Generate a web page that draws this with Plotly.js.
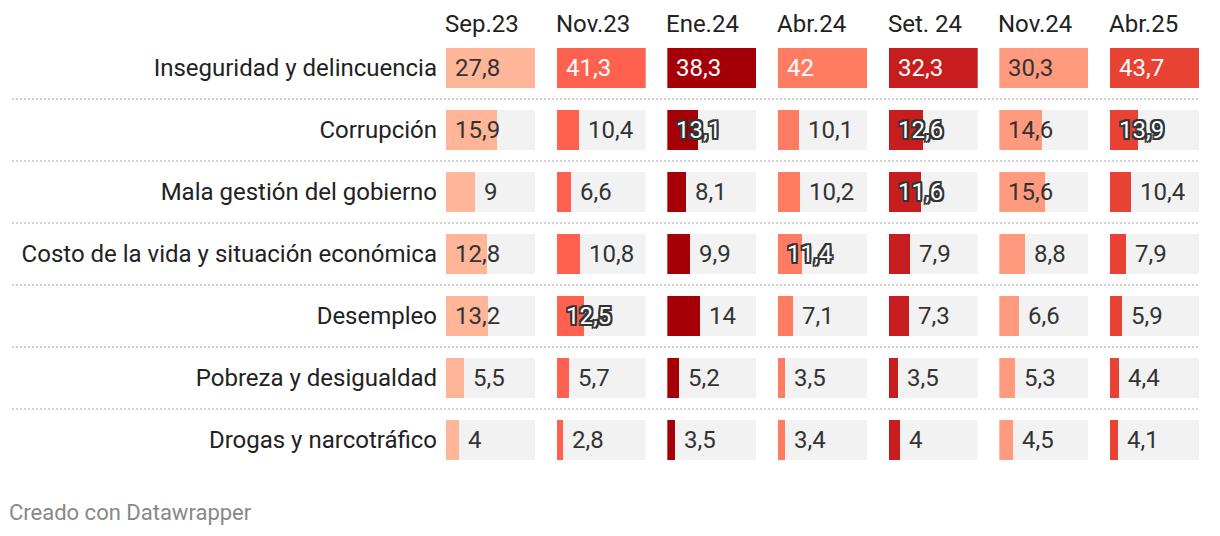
<!DOCTYPE html>
<html>
<head>
<meta charset="utf-8">
<script src="https://cdn.plot.ly/plotly-3.0.1.min.js"></script>
<style>html,body{margin:0;padding:0;background:#fff;}#chart{width:1220px;height:536px;}</style>
</head>
<body>
<div id="chart"></div>
<script>
const columns = ['Sep.23','Nov.23','Ene.24','Abr.24','Set. 24','Nov.24','Abr.25'];
const categories = ['Inseguridad y delincuencia','Corrupción','Mala gestión del gobierno','Costo de la vida y situación económica','Desempleo','Pobreza y desigualdad','Drogas y narcotráfico'];
const sep23 = [27.8,15.9,9,12.8,13.2,5.5,4];
const nov23 = [41.3,10.4,6.6,10.8,12.5,5.7,2.8];
const ene24 = [38.3,13.1,8.1,9.9,14,5.2,3.5];
const abr24 = [42,10.1,10.2,11.4,7.1,3.5,3.4];
const set24 = [32.3,12.6,11.6,7.9,7.3,3.5,4];
const nov24 = [30.3,14.6,15.6,8.8,6.6,5.3,4.5];
const abr25 = [43.7,13.9,10.4,7.9,5.9,4.4,4.1];
const colors = ['#ffb597','#ff6150','#a50008','#ff7b62','#c81d1e','#ff9a7e','#e84234'];

const series = [sep23,nov23,ene24,abr24,set24,nov24,abr25];
const W = 1220, H = 536;
const FONT = 'Roboto, "Noto Sans", sans-serif';
const FS = 24;
const rowIdx = categories.map((c,i)=>i);

function isDark(hex){
  const r=parseInt(hex.slice(1,3),16), g=parseInt(hex.slice(3,5),16), b=parseInt(hex.slice(5,7),16);
  return (0.299*r+0.587*g+0.114*b) < 175;
}
const fmt = v => String(v).replace('.', ',');
const halo = ['-2px -2px 0 #333','2px -2px 0 #333','-2px 2px 0 #333','2px 2px 0 #333','0 2px 0 #333','0 -2px 0 #333','2px 0 0 #333','-2px 0 0 #333'].join(', ');

const traces = [];
const annotations = [];
const layout = {
  width: W, height: H,
  margin: {l:0, r:0, t:0, b:0, pad:0},
  paper_bgcolor: '#ffffff', plot_bgcolor: 'rgba(0,0,0,0)',
  showlegend: false, barmode: 'overlay', bargap: 0,
  font: {family: FONT, size: FS, color: '#222222'},
  yaxis: {
    anchor: 'x', range: [7.548, -1.097], tickvals: rowIdx, ticktext: categories,
    showgrid: false, zeroline: false, showline: false, ticks: '',
    ticklabelstandoff: 8, tickfont: {family: FONT, size: FS, color: '#222222'}, fixedrange: true
  },
  shapes: [], annotations: annotations
};

series.forEach((vals, i) => {
  const ax = i === 0 ? 'x' : 'x' + (i+1);
  const axName = i === 0 ? 'xaxis' : 'xaxis' + (i+1);
  const mx = Math.max(...vals);
  const x0 = 446 + i*110.67;
  layout[axName] = {
    domain: [x0/W, (x0+89)/W], range: [0, mx], anchor: 'y',
    showgrid: false, zeroline: false, showline: false, showticklabels: false, ticks: '', fixedrange: true
  };
  traces.push({type:'bar', orientation:'h', x: vals.map(()=>mx), y: rowIdx, xaxis: ax, yaxis: 'y',
    marker:{color:'#f2f2f2'}, width: 0.645, hoverinfo:'skip'});
  traces.push({type:'bar', orientation:'h', x: vals, y: rowIdx, xaxis: ax, yaxis: 'y',
    marker:{color: colors[i]}, width: 0.645, hoverinfo:'skip'});
  annotations.push({xref: ax + ' domain', yref:'paper', x: 0, y: 1 - 24/H, xanchor:'left', yanchor:'middle',
    xshift: -3, text: columns[i], showarrow:false, font:{family: FONT, size: FS, color:'#222222'}});
  const dark = isDark(colors[i]);
  vals.forEach((v, r) => {
    const label = fmt(v);
    const ratio = v / mx;
    const inside = ratio >= 0.5 || (v >= 11 && label.length >= 4);
    let font = {family: FONT, size: FS, color: '#333333'};
    if (inside && dark) {
      font.color = '#ffffff';
      if (ratio < 0.6) font.shadow = halo;
    }
    annotations.push({xref: ax, yref: 'y', x: inside ? 0 : v, y: r, xshift: 7,
      xanchor: 'left', yanchor: 'middle', text: label, showarrow: false, font: font});
  });
});

for (let k = 0; k < categories.length - 1; k++) {
  layout.shapes.push({type:'line', xref:'paper', yref:'y', x0: 12/W, x1: 1200/W, y0: k+0.5, y1: k+0.5,
    line:{color:'#d2d2d2', width:2, dash:'2px,2px'}, layer:'below'});
}
annotations.push({xref:'paper', yref:'paper', x: 10/W, y: 1 - 512/H, xanchor:'left', yanchor:'middle',
  xshift: -3, text:'Creado con Datawrapper', showarrow:false, font:{family: FONT, size: 22, color:'#888888'}});

Plotly.newPlot('chart', traces, layout, {displayModeBar:false, staticPlot:true});
</script>
</body>
</html>
